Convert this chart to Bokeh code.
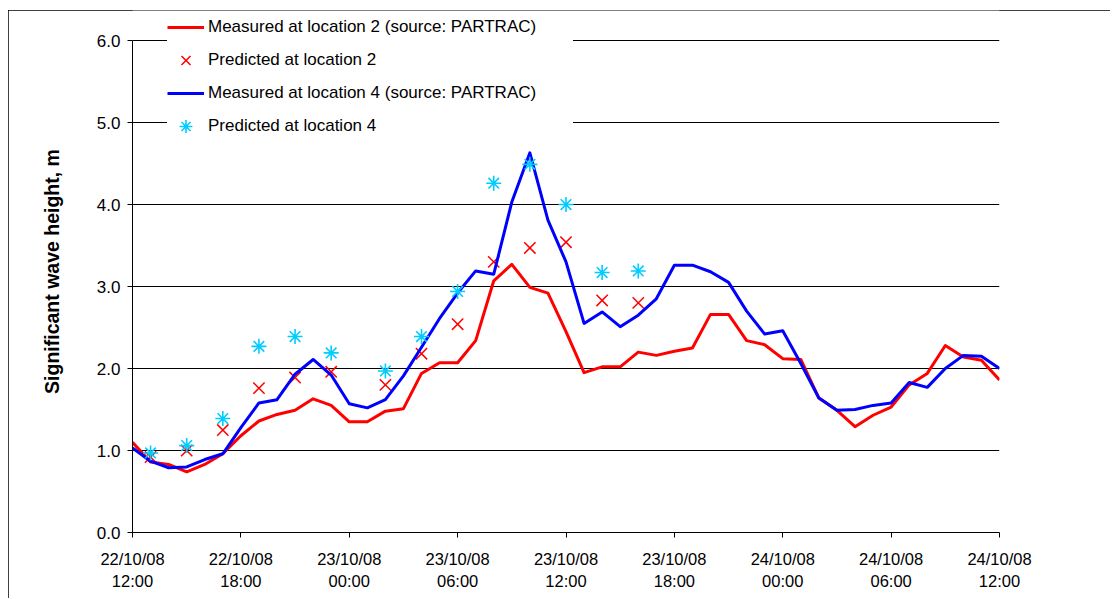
from bokeh.plotting import figure
from bokeh.models import (Range1d, FixedTicker, LinearAxis, Legend, LegendItem,
                          NumeralTickFormatter)
from bokeh.embed import file_html
from bokeh.resources import INLINE

# ---------------- data ----------------
hours = list(range(49))  # hours after 22/10/08 12:00

measured_loc2 = [1.10, 0.86, 0.83, 0.74, 0.83, 0.96, 1.18, 1.36, 1.44, 1.49,
                 1.63, 1.55, 1.35, 1.35, 1.48, 1.51, 1.94, 2.07, 2.07, 2.34,
                 3.07, 3.27, 2.99, 2.92, 2.45, 1.95, 2.02, 2.02, 2.20, 2.16,
                 2.21, 2.25, 2.66, 2.66, 2.34, 2.29, 2.12, 2.11, 1.64, 1.49,
                 1.29, 1.43, 1.53, 1.80, 1.94, 2.28, 2.14, 2.10, 1.86]

measured_loc4 = [1.03, 0.87, 0.79, 0.80, 0.89, 0.96, 1.28, 1.58, 1.62, 1.93,
                 2.11, 1.92, 1.57, 1.52, 1.62, 1.91, 2.26, 2.61, 2.92, 3.19,
                 3.15, 4.03, 4.63, 3.81, 3.30, 2.55, 2.69, 2.51, 2.65, 2.85,
                 3.26, 3.26, 3.18, 3.05, 2.70, 2.42, 2.46, 2.06, 1.64, 1.49,
                 1.50, 1.55, 1.58, 1.83, 1.77, 2.00, 2.16, 2.15, 2.00]

pred_hours = [1, 3, 5, 7, 9, 11, 14, 16, 18, 20, 22, 24, 26, 28]
predicted_loc2 = [0.92, 1.00, 1.25, 1.76, 1.89, 1.96, 1.80, 2.18, 2.54, 3.30,
                  3.47, 3.54, 2.83, 2.80]
predicted_loc4 = [0.97, 1.06, 1.39, 2.27, 2.39, 2.19, 1.97, 2.39, 2.94, 4.26,
                  4.49, 4.00, 3.17, 3.19]

x_ticks = [0, 6, 12, 18, 24, 30, 36, 42, 48]
date_labels = ["22/10/08", "22/10/08", "23/10/08", "23/10/08", "23/10/08",
               "23/10/08", "24/10/08", "24/10/08", "24/10/08"]
time_labels = ["12:00", "18:00", "00:00", "06:00", "12:00", "18:00",
               "00:00", "06:00", "12:00"]
y_ticks = [0, 1, 2, 3, 4, 5, 6]

series_names = ["Measured at location 2 (source: PARTRAC)",
                "Predicted at location 2",
                "Measured at location 4 (source: PARTRAC)",
                "Predicted at location 4"]
y_title = "Significant wave height, m"

FONT = "Liberation Sans"

# ---------------- figure ----------------
# y range reaches a little above 6.0 so the legend (which sits above the
# 6.0 line in the original) stays inside the plotting frame
p = figure(width=1102, height=588, output_backend="svg", toolbar_location=None,
           x_range=Range1d(0, 48), y_range=Range1d(0, 6.366),
           min_border_left=124, min_border_right=111,
           min_border_top=0, min_border_bottom=66)
p.background_fill_color = "white"
p.border_fill_color = "white"
p.outline_line_color = None
p.styles = {"margin-left": "8px", "margin-top": "10px",
            "outline": "1px solid black", "outline-offset": "-1px"}

p.xgrid.visible = False
p.ygrid.ticker = FixedTicker(ticks=y_ticks)
p.ygrid.grid_line_color = "black"
p.ygrid.grid_line_width = 1

yax = p.yaxis[0]
yax.bounds = (0, 6)
yax.ticker = FixedTicker(ticks=y_ticks)
yax.formatter = NumeralTickFormatter(format="0.0")
yax.major_label_text_font = FONT
yax.major_label_text_font_size = "17px"
yax.major_label_text_color = "black"
yax.major_tick_out = 5
yax.major_tick_in = 0
yax.minor_tick_line_color = None
yax.axis_line_color = "black"
yax.major_tick_line_color = "black"
yax.major_label_standoff = 7
yax.axis_label = y_title
yax.axis_label_text_font = FONT
yax.axis_label_text_font_size = "19.5px"
yax.axis_label_text_font_style = "bold"
yax.axis_label_text_color = "black"
yax.axis_label_standoff = 31

xax = p.xaxis[0]
xax.ticker = FixedTicker(ticks=x_ticks)
xax.major_label_overrides = dict(zip(x_ticks, date_labels))
xax.major_label_text_font = FONT
xax.major_label_text_font_size = "16.5px"
xax.major_label_text_color = "black"
xax.major_tick_out = 5
xax.major_tick_in = 0
xax.minor_tick_line_color = None
xax.axis_line_color = "black"
xax.major_tick_line_color = "black"
xax.major_label_standoff = 12

ax2 = LinearAxis(ticker=FixedTicker(ticks=x_ticks),
                 major_label_overrides=dict(zip(x_ticks, time_labels)),
                 axis_line_color=None, major_tick_line_color=None,
                 minor_tick_line_color=None, major_tick_out=0, major_tick_in=0,
                 major_label_standoff=1, major_label_text_font=FONT,
                 major_label_text_font_size="16.5px",
                 major_label_text_color="black")
p.add_layout(ax2, "below")

# ---------------- glyphs ----------------
r1 = p.line(hours, measured_loc2, line_color="#FF0000", line_width=3,
            line_join="round")
r2 = p.scatter(pred_hours, predicted_loc2, marker="x", size=16,
               line_color="#FF0000", line_width=1.5)
r3 = p.line(hours, measured_loc4, line_color="#0000FF", line_width=3,
            line_join="round")
r4 = p.scatter(pred_hours, predicted_loc4, marker="asterisk", size=15,
               line_color="#00CCFF", line_width=1.6)

legend = Legend(items=[LegendItem(label=series_names[0], renderers=[r1]),
                       LegendItem(label=series_names[1], renderers=[r2]),
                       LegendItem(label=series_names[2], renderers=[r3]),
                       LegendItem(label=series_names[3], renderers=[r4])],
                location=(35, 390), margin=0, padding=0, spacing=1,
                glyph_width=37, glyph_height=32, label_height=32,
                label_standoff=4, label_width=365,
                label_text_font=FONT, label_text_font_size="17px",
                label_text_color="black",
                background_fill_color="white", background_fill_alpha=1.0,
                border_line_color=None)
p.add_layout(legend, "center")

open("out.html", "w").write(file_html(p, INLINE))
